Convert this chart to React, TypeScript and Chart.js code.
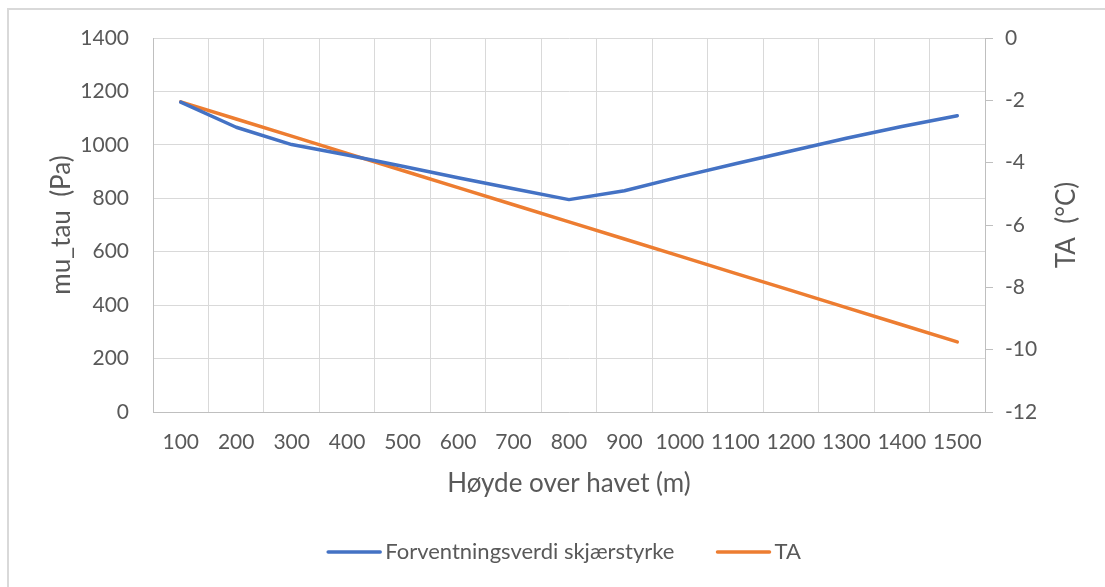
import React, { useEffect, useRef } from "react";
import { Chart, registerables } from "chart.js";

Chart.register(...registerables);

const categories = ["100", "200", "300", "400", "500", "600", "700", "800", "900", "1000", "1100", "1200", "1300", "1400", "1500"];
const shearStrength = [1160, 1066, 1001, 962, 920, 877, 836, 795, 828, 880, 929, 977, 1025, 1069, 1109];
const airTemp = [-2.05, -2.6, -3.15, -3.7, -4.25, -4.8, -5.35, -5.9, -6.45, -7.0, -7.55, -8.1, -8.65, -9.2, -9.75];
const seriesNames = ["Forventningsverdi skjærstyrke", "TA"];
const seriesColors = ["#4472C4", "#ED7D31"];
const leftTitle = "mu_tau  (Pa)";
const rightTitle = "TA  (°C)";
const xTitle = "Høyde over havet (m)";

const FONT = "Lato, 'Noto Sans', sans-serif";
const TEXT = "#595959";
const GRID = "#d9d9d9";
const AXIS = "#bfbfbf";
const TICK_SIZE = 21;
const TITLE_SIZE = 26;
const LEGEND_SIZE = 22;

const W = 1105;
const H = 587;
const AREA = { left: 153, right: 985, top: 38, bottom: 412 };
const PAD_LEFT = 24;
const PAD_BOTTOM = 75;

const extrasPlugin = {
  id: "extras",
  afterDraw(chart: any) {
    const ctx = chart.ctx;
    const area = chart.chartArea;
    ctx.save();
    // right axis title (reads bottom to top)
    ctx.fillStyle = TEXT;
    ctx.font = `${TITLE_SIZE}px ${FONT}`;
    ctx.textAlign = "center";
    ctx.textBaseline = "middle";
    ctx.translate(1067, (area.top + area.bottom) / 2);
    ctx.rotate(-Math.PI / 2);
    ctx.fillText(rightTitle, 0, 0);
    ctx.restore();

    // legend
    ctx.save();
    ctx.font = `${LEGEND_SIZE}px ${FONT}`;
    const ds = chart.data.datasets;
    const boxW = 54;
    const gapText = 4;
    const gapItem = 42;
    const widths = ds.map((d: any) => ctx.measureText(d.label).width);
    let total = 0;
    widths.forEach((w: number, i: number) => {
      total += boxW + gapText + w + (i < widths.length - 1 ? gapItem : 0);
    });
    let x = 564 - total / 2;
    const y = 552;
    ds.forEach((d: any, i: number) => {
      ctx.strokeStyle = d.borderColor;
      ctx.lineWidth = 3.5;
      ctx.lineCap = "round";
      ctx.beginPath();
      ctx.moveTo(x + 1, y);
      ctx.lineTo(x + boxW - 1, y);
      ctx.stroke();
      ctx.fillStyle = TEXT;
      ctx.textAlign = "left";
      ctx.textBaseline = "middle";
      ctx.fillText(d.label, x + boxW + gapText, y);
      x += boxW + gapText + widths[i] + gapItem;
    });
    ctx.restore();
  },
};

const plainNumber = (v: any) => String(v);

export default function App() {
  const ref = useRef<HTMLCanvasElement | null>(null);

  useEffect(() => {
    document.body.style.margin = "0";
    document.body.style.overflow = "hidden";
    const canvas = ref.current;
    if (!canvas) return;
    const chart = new Chart(canvas, {
      type: "line",
      data: {
        labels: categories,
        datasets: [
          {
            label: seriesNames[0],
            data: shearStrength,
            borderColor: seriesColors[0],
            backgroundColor: seriesColors[0],
            borderWidth: 3.5,
            pointRadius: 0,
            pointHoverRadius: 0,
            tension: 0,
            borderCapStyle: "round",
            borderJoinStyle: "round",
            yAxisID: "y",
            fill: false,
          },
          {
            label: seriesNames[1],
            data: airTemp,
            borderColor: seriesColors[1],
            backgroundColor: seriesColors[1],
            borderWidth: 3.5,
            pointRadius: 0,
            pointHoverRadius: 0,
            tension: 0,
            borderCapStyle: "round",
            borderJoinStyle: "round",
            yAxisID: "y1",
            fill: false,
          },
        ],
      },
      options: {
        responsive: false,
        animation: false,
        devicePixelRatio: 1,
        layout: { padding: { left: PAD_LEFT, right: 0, top: AREA.top, bottom: PAD_BOTTOM } },
        plugins: {
          legend: { display: false },
          tooltip: { enabled: false },
          title: { display: false },
        },
        scales: {
          x: {
            type: "category",
            offset: true,
            grid: { offset: true, color: GRID, lineWidth: 1, drawTicks: false },
            border: { color: AXIS, width: 1 },
            ticks: {
              color: TEXT,
              font: { family: FONT, size: TICK_SIZE },
              padding: 18,
              maxRotation: 0,
              minRotation: 0,
              autoSkip: false,
            },
            title: {
              display: true,
              text: xTitle,
              color: TEXT,
              font: { family: FONT, size: TITLE_SIZE },
              padding: { top: 0, bottom: 13 },
            },
            afterFit: (scale: any) => {
              scale.height = H - AREA.bottom - PAD_BOTTOM;
            },
          },
          y: {
            type: "linear",
            position: "left",
            min: 0,
            max: 1400,
            ticks: {
              stepSize: 200,
              color: TEXT,
              font: { family: FONT, size: TICK_SIZE },
              padding: 24,
              callback: plainNumber,
            },
            grid: { color: GRID, lineWidth: 1, drawTicks: false },
            border: { color: AXIS, width: 1 },
            title: {
              display: true,
              text: leftTitle,
              color: TEXT,
              font: { family: FONT, size: TITLE_SIZE },
              padding: { top: 22, bottom: 0 },
            },
            afterFit: (scale: any) => {
              scale.width = AREA.left - PAD_LEFT;
            },
          },
          y1: {
            type: "linear",
            position: "right",
            min: -12,
            max: 0,
            ticks: {
              stepSize: 2,
              color: TEXT,
              font: { family: FONT, size: TICK_SIZE },
              padding: 12,
              callback: plainNumber,
            },
            grid: { drawOnChartArea: false, color: AXIS, tickColor: AXIS, tickLength: 8, lineWidth: 1 },
            border: { color: AXIS, width: 1 },
            afterFit: (scale: any) => {
              scale.width = W - AREA.right;
            },
          },
        },
      },
      plugins: [extrasPlugin],
    });
    return () => chart.destroy();
  }, []);

  return (
    <div style={{ position: "relative", width: W, height: H, overflow: "hidden", background: "#fff" }}>
      <canvas ref={ref} width={W} height={H} style={{ display: "block", width: W, height: H }} />
      <div
        style={{
          position: "absolute",
          left: 7,
          top: 8,
          width: W + 50,
          height: H + 50,
          borderLeft: "2px solid #d9d9d9",
          borderTop: "2px solid #d9d9d9",
          pointerEvents: "none",
        }}
      />
    </div>
  );
}
